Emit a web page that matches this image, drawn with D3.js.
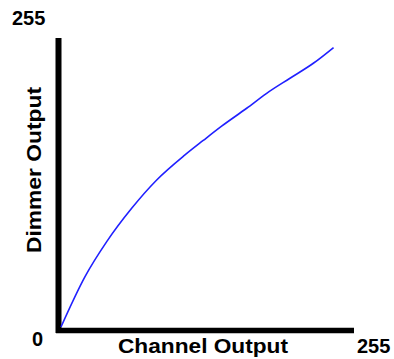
<!DOCTYPE html>
<html><head><meta charset="utf-8">
<script src="https://cdn.jsdelivr.net/npm/d3@7"></script>
<style>html,body{margin:0;padding:0;background:#fff;}svg{display:block;}</style>
</head><body>
<script>
const channel = [0, 20.9, 39.8, 61.5, 83.3, 107.9, 123.8, 139.8, 161.6, 179, 199.3, 219.6, 237.2];
const dimmer  = [0, 44.4, 75.3, 104.7, 129.7, 151.8, 164.6, 177.2, 193, 206.2, 219.5, 232.7, 246.6];
const tickLabels = ["0", "255"];
const xTitle = "Channel Output";
const yTitle = "Dimmer Output";

const W = 394, H = 359;
const svg = d3.select("body").append("svg").attr("width", W).attr("height", H);
const x = d3.scaleLinear().domain([0, 255]).range([61, 354]);
const y = d3.scaleLinear().domain([0, 255]).range([327, 38]);
const font = "'Liberation Sans', Arial, sans-serif";

// axes
svg.append("line").attr("x1", x(0) - 2.5).attr("x2", x(0) - 2.5)
  .attr("y1", y(255)).attr("y2", y(0) + 6).attr("stroke", "#000").attr("stroke-width", 6);
svg.append("line").attr("x1", x(0) - 5).attr("x2", x(255))
  .attr("y1", y(0) + 3.5).attr("y2", y(0) + 3.5).attr("stroke", "#000").attr("stroke-width", 5.5);

// curve
const pts = channel.map((c, i) => [c, dimmer[i]]);
svg.append("path").datum(pts)
  .attr("d", d3.line().x(d => x(d[0])).y(d => y(d[1])).curve(d3.curveMonotoneX))
  .attr("fill", "none").attr("stroke", "#2020ff").attr("stroke-width", 1.6);

// labels
const t = svg.append("g").attr("font-family", font).attr("font-weight", "bold").attr("font-size", 20).attr("fill", "#000");
t.append("text").attr("x", 12).attr("y", 25).text(tickLabels[1]);
t.append("text").attr("x", 32).attr("y", 346).text(tickLabels[0]);
t.append("text").attr("x", 357).attr("y", 353).text(tickLabels[1]);
t.append("text").attr("x", 118).attr("y", 353).attr("textLength", 170).attr("lengthAdjust", "spacingAndGlyphs").text(xTitle);
t.append("text").attr("transform", "translate(41,170) rotate(-90)").attr("text-anchor", "middle")
  .attr("textLength", 166).attr("lengthAdjust", "spacingAndGlyphs").text(yTitle);
</script>
</body></html>
